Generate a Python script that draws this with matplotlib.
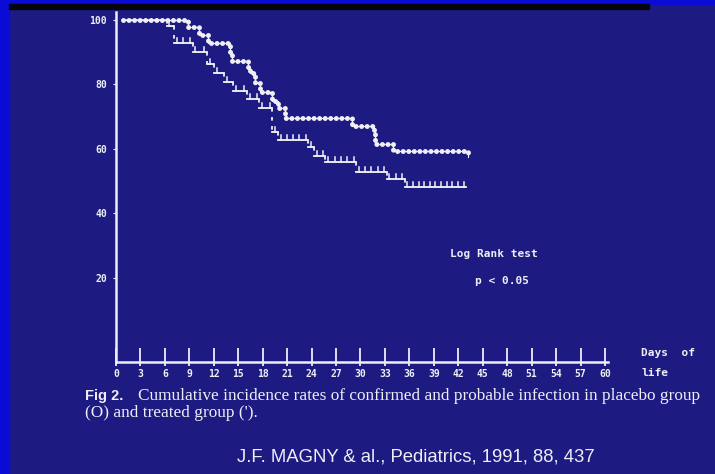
"""Slide recreation: cumulative incidence of infection, placebo vs treated (Magny 1991)."""

import matplotlib
matplotlib.use("Agg")
import matplotlib.pyplot as plt
import matplotlib.patheffects as pe
from matplotlib.patches import Rectangle

# ---- data (step curves, % infection-free) ----
placebo_days = [0.8, 8.8, 10.2, 11.3, 14.0, 14.2, 16.2, 16.4, 17.1, 17.7, 19.2,
                19.9, 20.7, 28.9, 31.6, 31.8, 34.0, 43.2]
placebo_vals = [100, 97.9, 95.3, 93.0, 90.2, 87.3, 85.5, 83.4, 80.6, 77.7, 74.8,
                72.6, 69.7, 67.1, 64.5, 61.5, 59.3, 57.4]

treated_days = [0.8, 6.2, 7.1, 9.4, 11.2, 12.0, 13.3, 14.4, 16.1, 17.6, 19.2,
                19.9, 23.6, 24.3, 25.7, 29.5, 33.2, 35.4, 43.0]
treated_vals = [100, 98.1, 93.0, 90.2, 86.3, 83.4, 80.8, 78.0, 75.5, 72.6, 65.1,
                62.7, 60.6, 57.8, 55.9, 52.9, 50.7, 48.2, 48.2]

x_ticks = list(range(0, 61, 3))
y_ticks = [20, 40, 60, 80, 100]

BG = "#1d1a82"
FG = "#eeeef4"
W, H = 715, 474


def fx(px):
    return px / W


def fy(py):
    return 1 - py / H


def fit_width(txt, target_px, renderer):
    # scale font so the line spans the same width as on the slide
    w = txt.get_window_extent(renderer).width
    txt.set_fontsize(txt.get_fontsize() * target_px / w)


fig = plt.figure(figsize=(W / 100, H / 100), dpi=100, facecolor=BG)

# slide frame: bright blue edge on the left/top, dark band under the top edge
fig.patches.append(Rectangle((0, 0), fx(9), 1, transform=fig.transFigure,
                             color="#0b0bd6", zorder=0))
fig.patches.append(Rectangle((0, fy(3.5)), 1, 1, transform=fig.transFigure,
                             color="#0b0bd6", zorder=0))
fig.patches.append(Rectangle((fx(9), fy(8.5)), fx(640), 5 / H, transform=fig.transFigure,
                             color="#050510", zorder=0))

ax = fig.add_axes([fx(116), fy(362), fx(608 - 116), (362 - 12) / H])
ax.set_facecolor("none")
ax.set_xlim(0, 60.37)
ax.set_ylim(-6.2, 102.5)

# placebo: chain of small circles along the steps
ax.step(placebo_days, placebo_vals, where="post", color=FG, lw=0.8)
ax.step(placebo_days, placebo_vals, where="post", color=FG, lw=3.6,
        linestyle=(0, (0.01, 1.1)), dash_capstyle="round")

# treated: horizontal runs with little upward ticks, dashed drops
for i in range(len(treated_days) - 1):
    x0, x1 = treated_days[i], treated_days[i + 1]
    v = treated_vals[i]
    effects = [pe.withTickedStroke(spacing=4.0, angle=90, length=0.9,
                                   linewidth=1.1, foreground=FG), pe.Normal()]
    ax.plot([x0, x1], [v, v], color=FG, lw=1.1,
            path_effects=effects if i > 0 else None)
    v_next = treated_vals[i + 1]
    if v_next != v:
        ax.plot([x1, x1], [v, v_next], color=FG, lw=1.3, linestyle=(0, (2, 3)))

for side in ("top", "right"):
    ax.spines[side].set_visible(False)
for side in ("left", "bottom"):
    ax.spines[side].set_color(FG)
    ax.spines[side].set_linewidth(1.8)

tick_font = {"family": "DejaVu Sans Mono", "weight": "bold", "size": 7}
ax.set_xticks(x_ticks)
ax.set_xticklabels([str(t) for t in x_ticks], fontdict=tick_font, color=FG)
ax.tick_params(axis="x", which="major", direction="in", length=10, width=1.3,
               color=FG, pad=5)
ax.xaxis.remove_overlapping_locs = False
ax.set_xticks(x_ticks, minor=True)
ax.tick_params(axis="x", which="minor", direction="out", length=3, width=1.3, color=FG)
ax.set_yticks(y_ticks)
ax.set_yticklabels([str(t) for t in y_ticks], fontdict=tick_font, color=FG)
ax.tick_params(axis="y", direction="out", length=2.5, width=0.8, color=FG, pad=4)

label_font = {"family": "DejaVu Sans Mono", "weight": "bold", "size": 8}
fig.text(fx(641), fy(353), "Days  of", color=FG, fontdict=label_font, va="center")
fig.text(fx(641), fy(373), "life", color=FG, fontdict=label_font, va="center")

ax.text(41.0, 27.3, "Log Rank test", color=FG, fontdict=label_font, va="center")
ax.text(44.0, 19.0, "p < 0.05", color=FG, fontdict=label_font, va="center")

# caption
fig.text(fx(85), fy(396), "Fig 2.", color=FG, family="Liberation Sans",
         weight="bold", size=10.5, va="center")
cap1 = fig.text(fx(138), fy(396),
                "Cumulative incidence rates of confirmed and probable infection in placebo group",
                color=FG, family="Liberation Serif", size=11, va="center")
cap2 = fig.text(fx(85), fy(413), "(O) and treated group (').", color=FG,
                family="Liberation Serif", size=11, va="center")
cite = fig.text(fx(416), fy(457), "J.F. MAGNY & al., Pediatrics, 1991, 88, 437", color=FG,
                family="Liberation Sans", size=12.5, ha="center", va="center")

renderer = fig.canvas.get_renderer()
fit_width(cap1, 562, renderer)
cap2.set_fontsize(cap1.get_fontsize())
fit_width(cite, 358, renderer)

fig.savefig("out.png", dpi=100, facecolor=BG)
